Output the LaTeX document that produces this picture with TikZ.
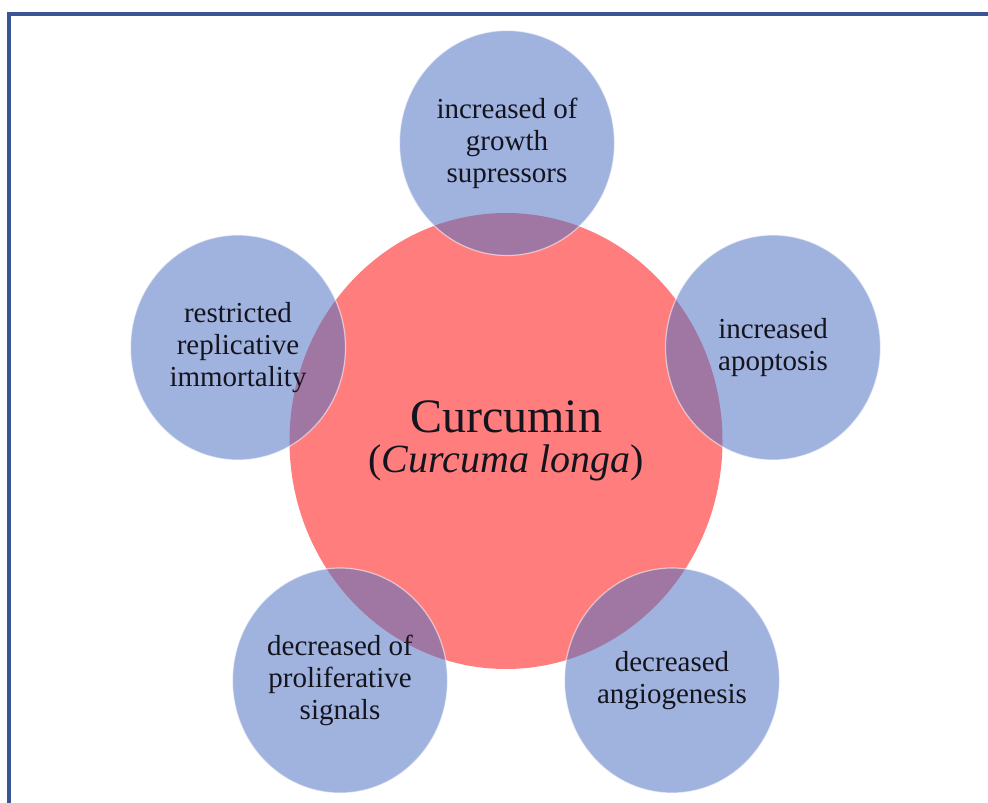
\documentclass[tikz,border=0pt]{standalone}
\usepackage{fontspec}
\setmainfont{Liberation Serif}
\usetikzlibrary{shapes.geometric}
\definecolor{corered}{RGB}{255,125,125}
\definecolor{satblue}{RGB}{82,115,195}
\definecolor{framecol}{RGB}{58,84,148}
\definecolor{txt}{RGB}{20,20,30}
\begin{document}
\begin{tikzpicture}[x=1pt,y=-1pt,
  core/.style={ellipse, fill=corered, minimum width=433pt, minimum height=456pt,
    inner sep=0pt, align=center, text=txt, font=\fontsize{40}{42}\selectfont},
  sat/.style={ellipse, fill=satblue, fill opacity=0.55, text opacity=1,
    draw=white, draw opacity=0.55, line width=1.2pt,
    minimum width=215pt, minimum height=225pt, inner sep=0pt, align=center, text=txt,
    font=\fontsize{29}{32}\selectfont},
  framestyle/.style={draw=framecol, line width=3.2pt}
]
\useasboundingbox (0,0) rectangle (988,803);
\fill[white] (0,0) rectangle (988,803);
\draw[framestyle] (9,810) -- (9,14) -- (995,14);

\node[core] (main) at (506,441) {{\fontsize{48}{42}\selectfont Curcumin}\\[-2pt](\textit{Curcuma longa})};

\node[sat] (top) at (507,143) {increased of\\growth\\supressors};
\node[sat] (right) at (773,347.5) {increased\\apoptosis};
\node[sat] (left) at (238,347.5) {restricted\\replicative\\immortality};
\node[sat] (bl) at (340,680.5) {decreased of\\proliferative\\signals};
\node[sat] (br) at (672,680.5) {decreased\\angiogenesis};
\end{tikzpicture}
\end{document}
